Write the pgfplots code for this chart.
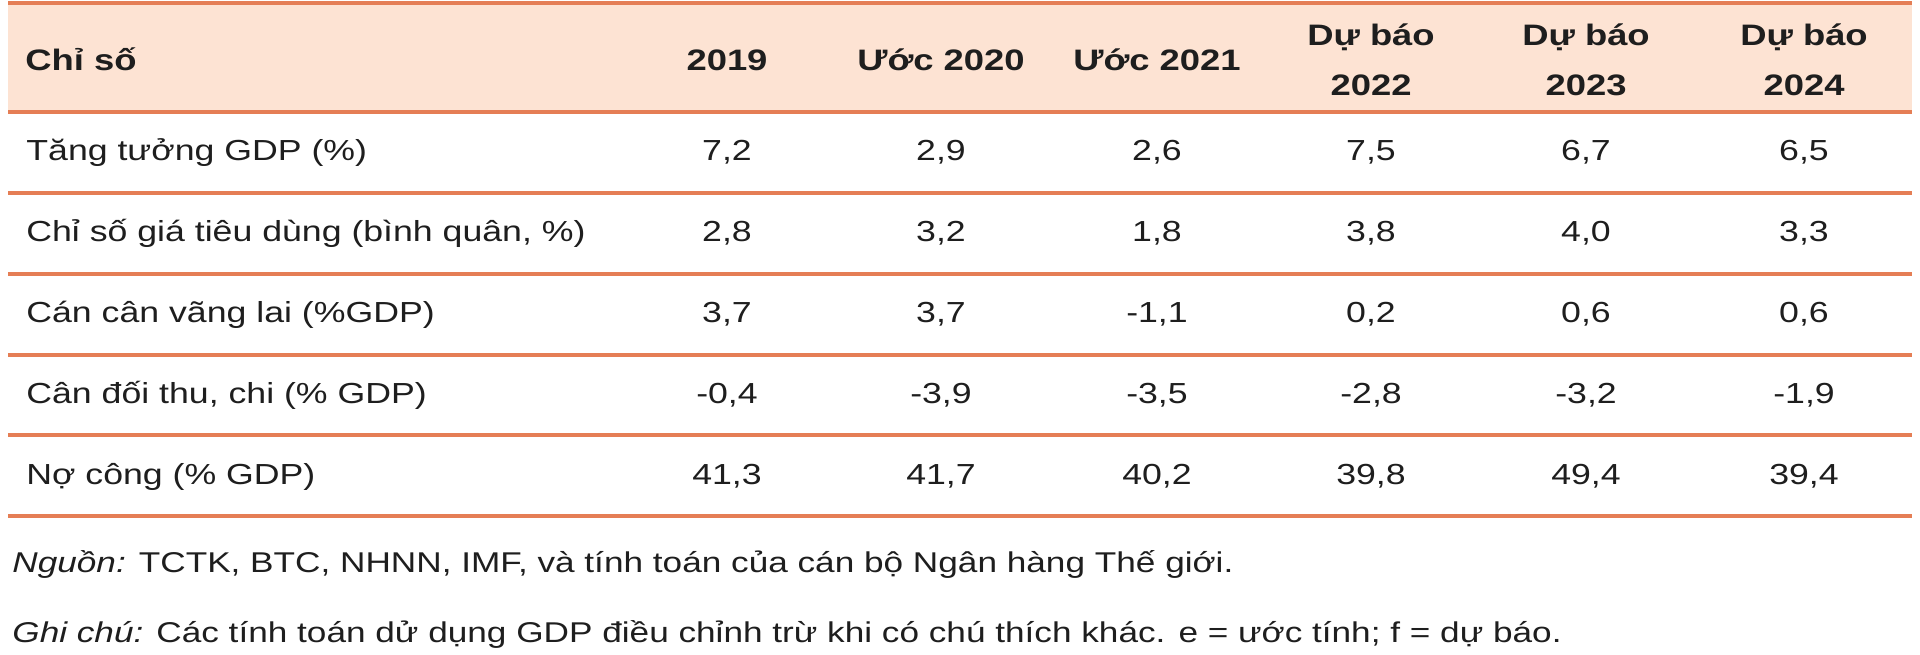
\documentclass[border=0pt]{standalone}
\usepackage{pgfplots}
\pgfplotsset{compat=1.18}
\usepackage{fontspec}
\setmainfont{Liberation Sans}[FakeStretch=1.23]
\definecolor{rulec}{HTML}{E57E55}
\definecolor{headc}{HTML}{FDE3D3}
\definecolor{txt}{HTML}{1E1E1E}
\newcommand\semi{\char59 }
\begin{document}
\begin{tikzpicture}
\begin{axis}[
  scale only axis, width=960pt, height=327pt,
  xmin=0, xmax=1920, ymin=0, ymax=654, y dir=reverse,
  hide axis, clip=false,
  cell/.style={draw=none, mark=none, nodes near coords, point meta=explicit symbolic,
    nodes near coords style={anchor=base, inner sep=0pt, text=txt, font=\fontsize{14.5}{17}\selectfont}},
  hcell/.style={draw=none, mark=none, nodes near coords, point meta=explicit symbolic,
    nodes near coords style={anchor=base, inner sep=0pt, text=txt, font=\fontsize{14.8}{17}\selectfont\bfseries}},
  fcell/.style={draw=none, mark=none, nodes near coords, point meta=explicit symbolic,
    nodes near coords style={anchor=base west, inner sep=0pt, text=txt, font=\fontsize{14.3}{17}\selectfont}},
  rule/.style={rulec, line width=1.7pt},
]
% background
\addplot[fill=white, draw=none] coordinates {(0,0) (1920,0) (1920,654) (0,654)} -- cycle;
% header band
\addplot[fill=headc, draw=none] coordinates {(8,3) (1912,3) (1912,112) (8,112)} -- cycle;
% rules
\addplot[rule] coordinates {(8,3) (1912,3)};
\addplot[rule] coordinates {(8,112) (1912,112)};
\addplot[rule] coordinates {(8,193) (1912,193)};
\addplot[rule] coordinates {(8,274) (1912,274)};
\addplot[rule] coordinates {(8,355) (1912,355)};
\addplot[rule] coordinates {(8,435) (1912,435)};
\addplot[rule] coordinates {(8,516) (1912,516)};
% header
\addplot[hcell, nodes near coords style={anchor=base west}] table[col sep=braces, row sep=\\, x=x, y=y, meta=t] {
{x}{y}{t}\\
{25}{70}{Chỉ số}\\
};
\addplot[hcell] table[col sep=braces, row sep=\\, x=x, y=y, meta=t] {
{x}{y}{t}\\
{727}{70}{2019}\\
{941}{70}{Ước 2020}\\
{1157}{70}{Ước 2021}\\
{1371}{45}{Dự báo}\\
{1371}{95}{2022}\\
{1586}{45}{Dự báo}\\
{1586}{95}{2023}\\
{1804}{45}{Dự báo}\\
{1804}{95}{2024}\\
};
% row labels
\addplot[cell, nodes near coords style={anchor=base west}] table[col sep=braces, row sep=\\, x=x, y=y, meta=t] {
{x}{y}{t}\\
{26}{160}{Tăng tưởng GDP (\%)}\\
{26}{241}{Chỉ số giá tiêu dùng (bình quân, \%)}\\
{26}{322}{Cán cân vãng lai (\%GDP)}\\
{26}{403}{Cân đối thu, chi (\% GDP)}\\
{26}{484}{Nợ công (\% GDP)}\\
};
% values
\addplot[cell] table[col sep=braces, row sep=\\, x=x, y=y, meta=t] {
{x}{y}{t}\\
{727}{160}{7,2}\\
{941}{160}{2,9}\\
{1157}{160}{2,6}\\
{1371}{160}{7,5}\\
{1586}{160}{6,7}\\
{1804}{160}{6,5}\\
{727}{241}{2,8}\\
{941}{241}{3,2}\\
{1157}{241}{1,8}\\
{1371}{241}{3,8}\\
{1586}{241}{4,0}\\
{1804}{241}{3,3}\\
{727}{322}{3,7}\\
{941}{322}{3,7}\\
{1157}{322}{-1,1}\\
{1371}{322}{0,2}\\
{1586}{322}{0,6}\\
{1804}{322}{0,6}\\
{727}{403}{-0,4}\\
{941}{403}{-3,9}\\
{1157}{403}{-3,5}\\
{1371}{403}{-2,8}\\
{1586}{403}{-3,2}\\
{1804}{403}{-1,9}\\
{727}{484}{41,3}\\
{941}{484}{41,7}\\
{1157}{484}{40,2}\\
{1371}{484}{39,8}\\
{1586}{484}{49,4}\\
{1804}{484}{39,4}\\
};
% footnotes
\addplot[fcell] table[col sep=braces, row sep=\\, x=x, y=y, meta=t] {
{x}{y}{t}\\
{12}{572}{\textit{Nguồn:} TCTK, BTC, NHNN, IMF, và tính toán của cán bộ Ngân hàng Thế giới.}\\
{12}{642}{\textit{Ghi chú:} Các tính toán dử dụng GDP điều chỉnh trừ khi có chú thích khác. e = ước tính\semi{} f = dự báo.}\\
};
\end{axis}
\end{tikzpicture}
\end{document}
